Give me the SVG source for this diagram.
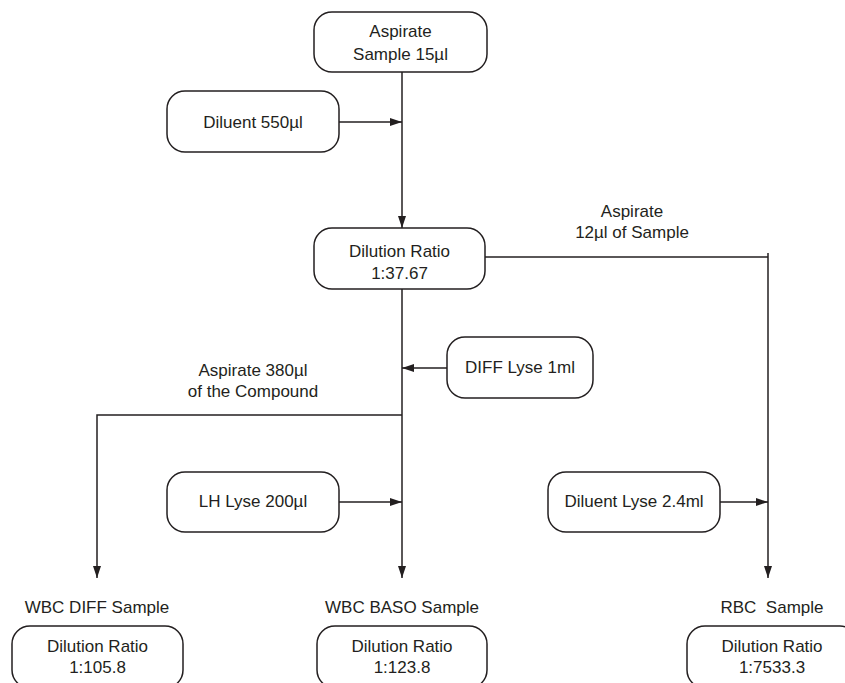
<svg xmlns="http://www.w3.org/2000/svg" width="845" height="683" viewBox="0 0 845 683">
  <defs>
    <marker id="arr" markerUnits="userSpaceOnUse" markerWidth="13" markerHeight="9" refX="12" refY="4" orient="auto">
      <path d="M0,0 L12,4 L0,8 Z" fill="#231f20"/>
    </marker>
    <style>
      .box { fill: #ffffff; stroke: #231f20; stroke-width: 1.5; }
      .t { font-family: "Liberation Sans", Arial, sans-serif; font-size: 17px; fill: #231f20; text-anchor: middle; }
      .ln { fill: none; stroke: #231f20; stroke-width: 1.5; }
    </style>
  </defs>
  <rect width="845" height="683" fill="#ffffff"/>

  <g id="connectors">
    <line class="ln" x1="402" y1="72" x2="402" y2="228" marker-end="url(#arr)"/>
    <line class="ln" x1="339" y1="122" x2="402" y2="122" marker-end="url(#arr)"/>
    <polyline class="ln" points="485,257 768,257"/>
    <line class="ln" x1="768" y1="253" x2="768" y2="578" marker-end="url(#arr)"/>
    <line class="ln" x1="402" y1="289" x2="402" y2="578" marker-end="url(#arr)"/>
    <line class="ln" x1="447" y1="368" x2="402" y2="368" marker-end="url(#arr)"/>
    <polyline class="ln" points="402,415 97,415 97,578" marker-end="url(#arr)"/>
    <line class="ln" x1="339" y1="502" x2="402" y2="502" marker-end="url(#arr)"/>
    <line class="ln" x1="720" y1="502" x2="768" y2="502" marker-end="url(#arr)"/>
    <text class="t" x="632" y="217">Aspirate</text>
    <text class="t" x="632" y="238">12µl of Sample</text>
    <text class="t" x="253" y="376">Aspirate 380µl</text>
    <text class="t" x="253" y="397">of the Compound</text>
  </g>

  <g id="aspirate-sample">
    <rect class="box" x="314" y="12" width="173" height="60" rx="18"/>
    <text class="t" x="400.5" y="37">Aspirate</text>
    <text class="t" x="400.5" y="60">Sample 15µl</text>
  </g>

  <g id="diluent">
    <rect class="box" x="167" y="91" width="172" height="61" rx="18"/>
    <text class="t" x="253" y="128">Diluent 550µl</text>
  </g>

  <g id="dilution-ratio">
    <rect class="box" x="314" y="228" width="171" height="61" rx="18"/>
    <text class="t" x="399.5" y="257">Dilution Ratio</text>
    <text class="t" x="399.5" y="279">1:37.67</text>
  </g>

  <g id="diff-lyse">
    <rect class="box" x="447" y="337" width="146" height="61" rx="18"/>
    <text class="t" x="520" y="373">DIFF Lyse 1ml</text>
  </g>

  <g id="lh-lyse">
    <rect class="box" x="167" y="472" width="172" height="60" rx="18"/>
    <text class="t" x="253" y="507">LH Lyse 200µl</text>
  </g>

  <g id="diluent-lyse">
    <rect class="box" x="548" y="472" width="172" height="60" rx="18"/>
    <text class="t" x="634" y="507">Diluent Lyse 2.4ml</text>
  </g>

  <g id="wbc-diff">
    <text class="t" x="97" y="613">WBC DIFF Sample</text>
    <rect class="box" x="12" y="626" width="171" height="62" rx="18"/>
    <text class="t" x="97.5" y="652">Dilution Ratio</text>
    <text class="t" x="97.5" y="673">1:105.8</text>
  </g>

  <g id="wbc-baso">
    <text class="t" x="402" y="613">WBC BASO Sample</text>
    <rect class="box" x="317" y="626" width="170" height="62" rx="18"/>
    <text class="t" x="402" y="652">Dilution Ratio</text>
    <text class="t" x="402" y="673">1:123.8</text>
  </g>

  <g id="rbc">
    <text class="t" x="772" y="613" xml:space="preserve">RBC  Sample</text>
    <rect class="box" x="687" y="626" width="171" height="62" rx="18"/>
    <text class="t" x="772" y="652">Dilution Ratio</text>
    <text class="t" x="772" y="673">1:7533.3</text>
  </g>
</svg>
